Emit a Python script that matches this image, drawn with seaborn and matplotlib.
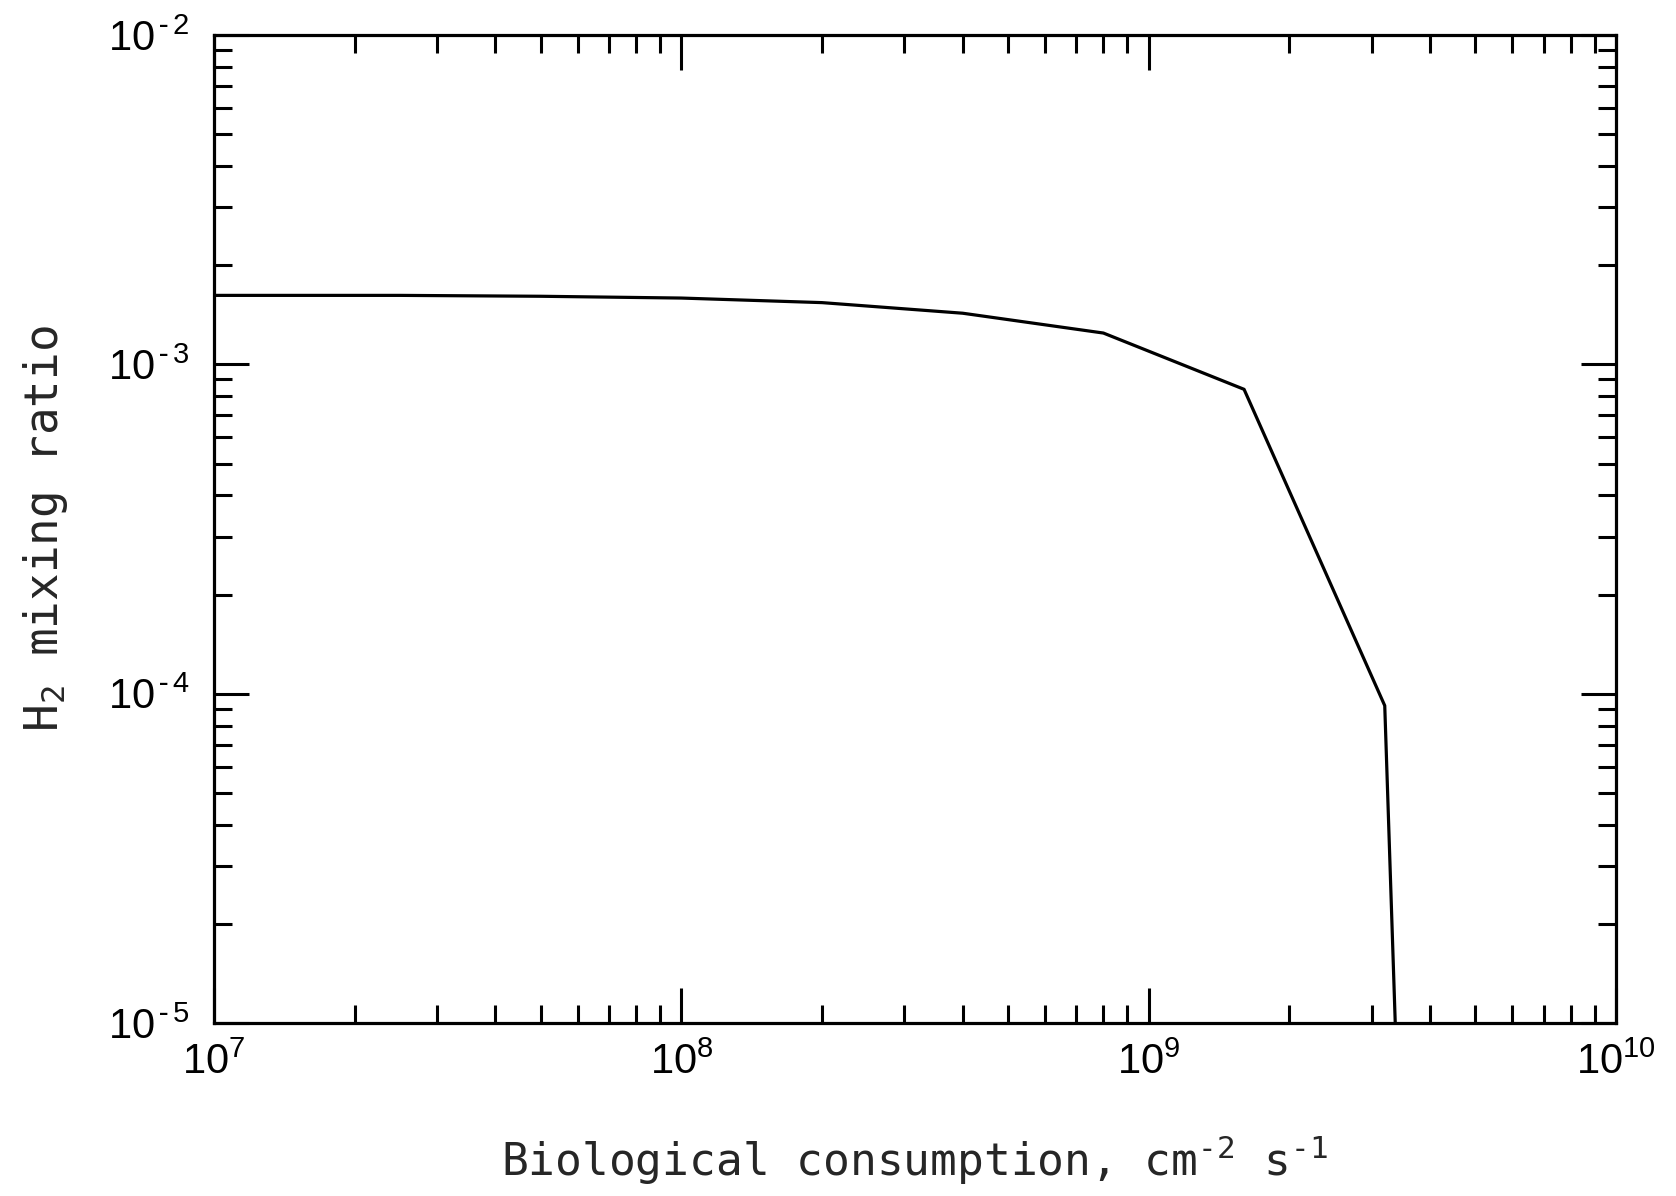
import numpy as np
import pandas as pd
import matplotlib
matplotlib.use("Agg")
import matplotlib.pyplot as plt
import matplotlib.ticker as mticker
import seaborn as sns

# Data
consumption = [1e7, 2.5e7, 5e7, 1e8, 2e8, 4e8, 8e8, 1.6e9, 3.2e9, 3.37e9]
h2_mixing = [1.62e-3, 1.62e-3, 1.61e-3, 1.59e-3, 1.54e-3, 1.43e-3, 1.245e-3, 8.4e-4, 9.2e-5, 1.0e-5]

xlabel = r"Biological consumption, cm$^{\text{-}2}$ s$^{\text{-}1}$"
ylabel = r"H$_2$ mixing ratio"

sns.set_style("ticks")
plt.rcParams["font.family"] = ["Liberation Sans", "DejaVu Sans"]
plt.rcParams["mathtext.fontset"] = "custom"
plt.rcParams["mathtext.rm"] = "DejaVu Sans Mono"
plt.rcParams["mathtext.it"] = "DejaVu Sans Mono"

df = pd.DataFrame({"x": consumption, "y": h2_mixing})

fig = plt.figure(figsize=(16.76, 11.96), dpi=100)
ax = fig.add_axes([0.1277, 0.1446, 0.9642 - 0.1277, 0.9707 - 0.1446])

sns.lineplot(data=df, x="x", y="y", ax=ax, color="black", linewidth=2.3, sort=False)

ax.set_xscale("log")
ax.set_yscale("log")
ax.set_xlim(1e7, 1e10)
ax.set_ylim(1e-5, 1e-2)

def fmt(v, pos):
    e = int(round(np.log10(v)))
    if e < 0:
        return r"$\mathregular{10^{\text{-}%d}}$" % (-e)
    return r"$\mathregular{10^{%d}}$" % e

for axis in (ax.xaxis, ax.yaxis):
    axis.set_major_locator(mticker.LogLocator(base=10, numticks=10))
    axis.set_minor_locator(mticker.LogLocator(base=10, subs=np.arange(2, 10), numticks=20))
    axis.set_major_formatter(mticker.FuncFormatter(fmt))
    axis.set_minor_formatter(mticker.NullFormatter())

ax.tick_params(which="both", direction="in", top=True, right=True, width=2.2, colors="black")
ax.tick_params(which="major", length=25)
ax.tick_params(which="minor", length=13)
ax.tick_params(axis="x", which="major", pad=14, labelsize=30)
ax.tick_params(axis="y", which="major", pad=18, labelsize=30)

for s in ax.spines.values():
    s.set_visible(True)
    s.set_linewidth(2.3)
    s.set_color("black")

ax.set_xlabel(xlabel, fontsize=32, family="DejaVu Sans Mono", labelpad=36)
ax.set_ylabel(ylabel, fontsize=33, family="DejaVu Sans Mono", labelpad=27)

fig.savefig("out.png", dpi=100, facecolor="white")
